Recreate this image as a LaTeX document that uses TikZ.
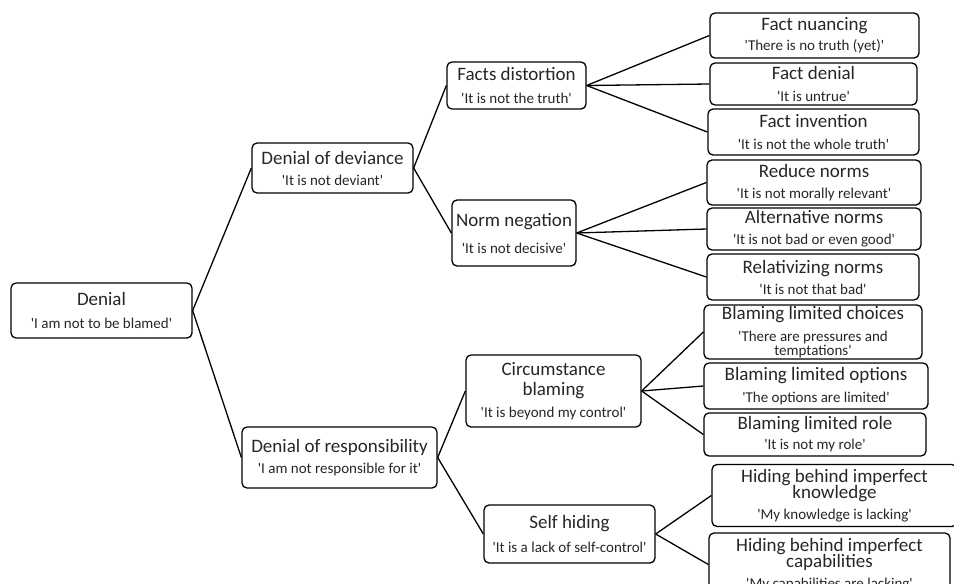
\documentclass[tikz,border=0pt]{standalone}
\usepackage{fontspec}
\setmainfont{Carlito}[Ligatures=TeXOff]
\usepackage{tikz}
\usetikzlibrary{positioning}
\definecolor{inkt}{rgb}{0.15,0.15,0.15}
\newcommand{\ttl}{\fontsize{19}{17}\selectfont}
\newcommand{\qt}{\fontsize{15}{15}\selectfont}
\tikzset{box/.style={draw=black, line width=1.3pt, rounded corners=5pt, align=center, inner sep=0pt, text=inkt, font=\ttl}}
\tikzset{lnk/.style={line width=1.3pt, black}}

\begin{document}
\begin{tikzpicture}[x=1pt,y=-1pt]
      \useasboundingbox (0,0) rectangle (954,584);
      \clip (0,0) rectangle (954,584);
      \node[box, minimum width=181pt, minimum height=55pt] (D) at (101.5,310.5) {\ttl Denial\\[6pt]\qt 'I am not to be blamed'};
      \node[box, minimum width=161pt, minimum height=50pt] (DD) at (332.5,168) {\ttl Denial of deviance\\[4pt]\qt 'It is not deviant'};
      \node[box, minimum width=195pt, minimum height=61pt] (DR) at (339.5,457.5) {\ttl Denial of responsibility\\[4pt]\qt 'I am not responsible for it'};
      \node[box, minimum width=139pt, minimum height=47pt] (FD) at (516.5,85.5) {\ttl Facts distortion\\[6pt]\qt 'It is not the truth'};
      \node[box, minimum width=124pt, minimum height=66pt] (NN) at (514,233) {\ttl Norm negation\\[10pt]\qt 'It is not decisive'};
      \node[box, minimum width=175pt, minimum height=72pt] (CB) at (553.5,391) {\ttl Circumstance\\[3pt]\ttl blaming\\[5pt]\qt 'It is beyond my control'};
      \node[box, minimum width=171pt, minimum height=58pt] (SH) at (569.5,534) {\ttl Self hiding\\[7pt]\qt 'It is a lack of self-control'};
      \node[box, minimum width=209pt, minimum height=45pt] (FN) at (814.5,35.5) {\ttl Fact nuancing\\[3pt]\qt 'There is no truth (yet)'};
      \node[box, minimum width=207pt, minimum height=42pt] (FDe) at (813.5,84) {\ttl Fact denial\\[5pt]\qt 'It is untrue'};
      \node[box, minimum width=211pt, minimum height=46pt] (FI) at (813.5,132) {\ttl Fact invention\\[5pt]\qt 'It is not the whole truth'};
      \node[box, minimum width=214pt, minimum height=45pt] (RN) at (814,182.5) {\ttl Reduce norms\\[4pt]\qt 'It is not morally relevant'};
      \node[box, minimum width=214pt, minimum height=42pt] (AN) at (814,229) {\ttl Alternative norms\\[4pt]\qt 'It is not bad or even good'};
      \node[box, minimum width=212pt, minimum height=46pt] (RlN) at (813,277) {\ttl Relativizing norms\\[4pt]\qt 'It is not that bad'};
      \node[box, minimum width=218pt, minimum height=54pt] (BC) at (813,332) {\ttl Blaming limited choices\\[5pt]\qt 'There are pressures and\\[-3pt]\qt temptations'};
      \node[box, minimum width=224pt, minimum height=46pt] (BO) at (816,386) {\ttl Blaming limited options\\[5pt]\qt 'The options are limited'};
      \node[box, minimum width=222pt, minimum height=43pt] (BR) at (815,434.5) {\ttl Blaming limited role\\[3pt]\qt 'It is not my role'};
      \node[box, minimum width=245pt, minimum height=62pt] (HK) at (834.5,495.5) {\ttl Hiding behind imperfect\\[-1pt]\ttl knowledge\\[4pt]\qt 'My knowledge is lacking'};
      \node[box, minimum width=241pt, minimum height=63pt] (HC) at (829.5,564.5) {\ttl Hiding behind imperfect\\[-1pt]\ttl capabilities\\[4pt]\qt 'My capabilities are lacking'};
      \draw[lnk] (D.east) -- (DD.west);
      \draw[lnk] (D.east) -- (DR.west);
      \draw[lnk] (DD.east) -- (FD.west);
      \draw[lnk] (DD.east) -- (NN.west);
      \draw[lnk] (DR.east) -- (CB.west);
      \draw[lnk] (DR.east) -- (SH.west);
      \draw[lnk] (FD.east) -- (FN.west);
      \draw[lnk] (FD.east) -- (FDe.west);
      \draw[lnk] (FD.east) -- (FI.west);
      \draw[lnk] (NN.east) -- (RN.west);
      \draw[lnk] (NN.east) -- (AN.west);
      \draw[lnk] (NN.east) -- (RlN.west);
      \draw[lnk] (CB.east) -- (BC.west);
      \draw[lnk] (CB.east) -- (BO.west);
      \draw[lnk] (CB.east) -- (BR.west);
      \draw[lnk] (SH.east) -- (HK.west);
      \draw[lnk] (SH.east) -- (HC.west);
    \end{tikzpicture}
\end{document}
